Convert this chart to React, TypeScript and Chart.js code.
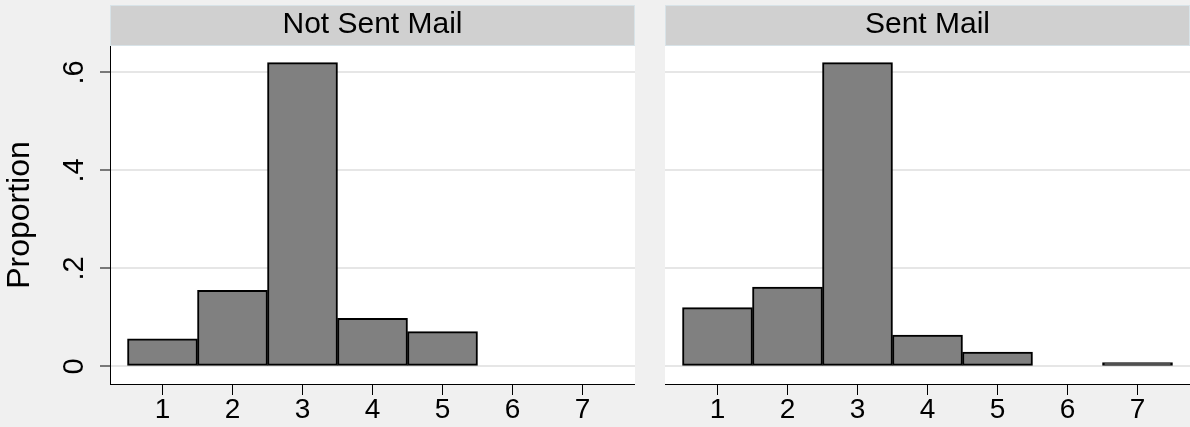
import React, { useEffect, useRef } from 'react';
import { Chart, registerables } from 'chart.js';

Chart.register(...registerables);

// ---- data ----
const categories = [1, 2, 3, 4, 5, 6, 7];
const notSentMail = [0.056, 0.155, 0.62, 0.098, 0.071, 0, 0];
const sentMail = [0.12, 0.162, 0.62, 0.064, 0.029, 0, 0.0075];
const yTickValues = [0, 0.2, 0.4, 0.6];
const yTickLabels = ['0', '.2', '.4', '.6'];
const panelTitles = ['Not Sent Mail', 'Sent Mail'];
const yAxisTitle = 'Proportion';

const FONT = "'Liberation Sans', Arial, Helvetica, sans-serif";
const BG = '#f0f0f0';

const headerPlugin = {
  id: 'panelHeader',
  beforeDraw(chart: any, _args: any, opts: any) {
    const { ctx, chartArea } = chart;
    const w = chartArea.right - chartArea.left;
    ctx.save();
    ctx.fillStyle = '#ffffff';
    ctx.fillRect(chartArea.left, chartArea.top, w, chartArea.bottom - chartArea.top);
    const top = 5;
    const h = chartArea.top - top;
    ctx.fillStyle = '#d0d0d0';
    ctx.fillRect(chartArea.left, top, w, h);
    ctx.strokeStyle = '#d8e3e8';
    ctx.lineWidth = 1;
    ctx.strokeRect(chartArea.left + 0.5, top + 0.5, w - 1, h - 1);
    ctx.fillStyle = '#000';
    ctx.font = `30px ${FONT}`;
    ctx.textAlign = 'center';
    ctx.textBaseline = 'alphabetic';
    ctx.fillText(opts.title || '', (chartArea.left + chartArea.right) / 2, 32.5);
    ctx.restore();
  },
};

function Panel(props: { title: string; values: number[]; left: number; width: number; showY: boolean }) {
  const ref = useRef<HTMLCanvasElement | null>(null);
  useEffect(() => {
    if (!ref.current) return;
    const { title, values, showY } = props;
    const chart = new Chart(ref.current, {
      type: 'bar',
      data: {
        datasets: [
          {
            data: categories.map((c, i) => ({ x: c, y: values[i] > 0 ? values[i] : null })) as any,
            backgroundColor: '#808080',
            borderColor: '#000000',
            borderWidth: 2,
            borderSkipped: false,
            barPercentage: 1,
            categoryPercentage: 1,
          },
        ],
      },
      options: {
        responsive: false,
        animation: false,
        events: [],
        layout: { padding: { top: 46, left: 0, right: 0, bottom: 0 } },
        plugins: {
          legend: { display: false },
          tooltip: { enabled: false },
          title: { display: false },
          panelHeader: { title },
        } as any,
        scales: {
          x: {
            type: 'linear',
            min: 0.25,
            max: 7.75,
            offset: false,
            afterBuildTicks: (s: any) => {
              s.ticks = categories.map((v) => ({ value: v }));
            },
            ticks: {
              color: '#000',
              font: { family: FONT, size: 28, lineHeight: 1 },
              padding: 1,
              maxRotation: 0,
              minRotation: 0,
              autoSkip: false,
              callback: (v: any) => String(v),
            },
            grid: {
              display: true,
              drawOnChartArea: false,
              offset: false,
              tickLength: 11,
              tickColor: '#000',
              tickWidth: 1,
            },
            border: { display: true, color: '#000', width: 1 },
            afterFit: (s: any) => {
              s.height = 43;
            },
          } as any,
          y: {
            type: 'linear',
            min: -0.036,
            max: 0.654,
            afterBuildTicks: (s: any) => {
              s.ticks = yTickValues.map((v) => ({ value: v }));
            },
            ticks: {
              display: showY,
              color: '#000',
              font: { family: FONT, size: 29 },
              minRotation: 90,
              maxRotation: 90,
              crossAlign: 'center',
              padding: 13,
              callback: (v: any) => yTickLabels[yTickValues.indexOf(v)] ?? '',
            },
            grid: {
              color: '#e6e6e6',
              lineWidth: 2,
              drawTicks: showY,
              tickColor: '#000',
              tickWidth: 1,
              tickLength: showY ? 10 : 0,
            },
            border: { display: showY, color: '#000', width: 1 },
            title: {
              display: showY,
              text: yAxisTitle,
              color: '#000',
              font: { family: FONT, size: 32 },
              padding: { top: 1, bottom: 0 },
            },
            afterFit: (s: any) => {
              s.width = showY ? 110 : 0;
            },
          } as any,
        },
      },
      plugins: [headerPlugin as any],
    });
    return () => chart.destroy();
  }, []);
  return (
    <canvas
      ref={ref}
      width={props.width}
      height={427}
      style={{ position: 'absolute', left: props.left, top: 0, width: props.width, height: 427 }}
    />
  );
}

export default function App() {
  return (
    <div
      style={{
        position: 'fixed',
        left: 0,
        top: 0,
        width: 1190,
        height: 427,
        background: BG,
        overflow: 'hidden',
      }}
    >
      <Panel title={panelTitles[0]} values={notSentMail} left={0} width={635} showY={true} />
      <Panel title={panelTitles[1]} values={sentMail} left={665} width={525} showY={false} />
    </div>
  );
}
